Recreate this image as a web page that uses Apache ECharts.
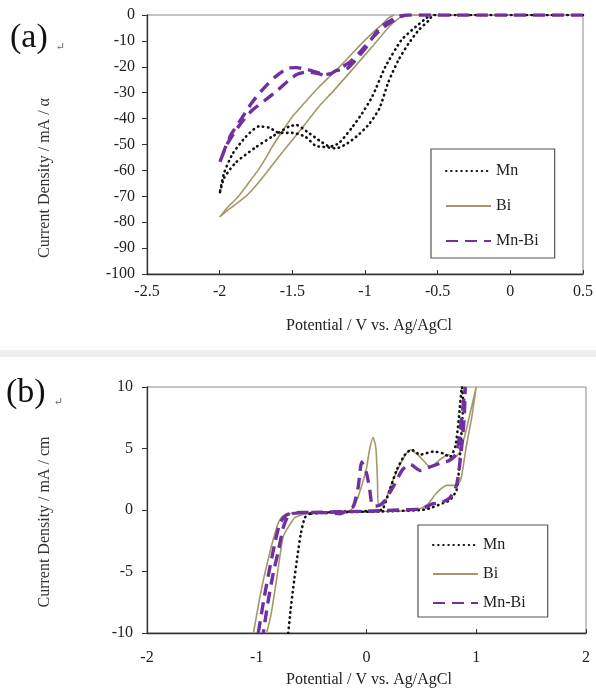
<!DOCTYPE html>
<html><head><meta charset="utf-8">
<script src="https://cdn.jsdelivr.net/npm/echarts@6/dist/echarts.min.js"></script>
<style>html,body{margin:0;padding:0;background:#fff}#c{width:596px;height:691px}</style>
</head><body><div id="c"></div>
<script>
// ---- data ----
const seriesNames = ['Mn', 'Bi', 'Mn-Bi'];
// panel (a): [potential V, current density]
const mnA = [[0.5,0],[-0.2,0],[-0.53,0],[-0.56,-2],[-0.63,-5.8],[-0.7,-11],[-0.77,-17.4],[-0.84,-26],[-0.9,-36],[-0.97,-42],[-1.04,-46],[-1.12,-49.5],[-1.2,-51.5],[-1.27,-51],[-1.34,-50.5],[-1.41,-47],[-1.5,-45.5],[-1.59,-45.5],[-1.66,-43.5],[-1.73,-43],[-1.82,-47],[-1.91,-53.5],[-1.97,-61],[-2,-69],[-1.97,-63],[-1.89,-57],[-1.75,-51],[-1.64,-47],[-1.52,-43],[-1.47,-42.5],[-1.4,-45],[-1.3,-49],[-1.24,-50.8],[-1.18,-49.5],[-1.09,-43.5],[-1.02,-38],[-0.95,-31.5],[-0.86,-20],[-0.75,-9.7],[-0.65,-4.5],[-0.585,-1.5],[-0.55,0]];
const biA = [[0.5,0],[-0.72,0],[-0.76,-1],[-0.81,-3.2],[-0.88,-7.5],[-0.95,-12.2],[-1.04,-18],[-1.13,-23.8],[-1.22,-29.5],[-1.32,-35.5],[-1.41,-42],[-1.5,-48.3],[-1.59,-54.5],[-1.68,-61],[-1.76,-66.5],[-1.82,-70],[-1.9,-73.5],[-1.96,-76],[-2,-78],[-1.95,-74.5],[-1.87,-70],[-1.82,-66.3],[-1.77,-62.5],[-1.73,-59.5],[-1.68,-55],[-1.64,-51],[-1.57,-45],[-1.5,-39.3],[-1.41,-33.5],[-1.32,-28],[-1.22,-22.5],[-1.13,-17.4],[-1.04,-12],[-0.95,-7],[-0.88,-3.5],[-0.84,-1.2],[-0.8,0]];
const mnBiA = [[0.5,0],[-0.2,0],[-0.7,0],[-0.75,-0.5],[-0.8,-2],[-0.88,-5],[-0.96,-9.5],[-1.04,-14.7],[-1.1,-18],[-1.17,-20.5],[-1.23,-22.5],[-1.28,-23],[-1.34,-22],[-1.4,-21],[-1.47,-20.3],[-1.53,-20.5],[-1.62,-24],[-1.7,-28.5],[-1.78,-34],[-1.85,-40],[-1.92,-46],[-1.96,-51],[-2,-57],[-1.95,-50],[-1.87,-43],[-1.78,-37],[-1.69,-33],[-1.6,-29],[-1.53,-25.5],[-1.47,-23],[-1.4,-22],[-1.33,-22.5],[-1.26,-23.5],[-1.2,-21.5],[-1.13,-21],[-1.09,-19],[-1.0,-13],[-0.9,-5],[-0.82,-2],[-0.77,-0.6],[-0.72,0]];
// panel (b)
const mnB = [[-0.713,-10],[-0.69,-8],[-0.667,-6.3],[-0.63,-3.8],[-0.6,-2],[-0.56,-0.6],[-0.5,-0.25],[-0.2,-0.15],[0.1,-0.05],[0.15,0.1],[0.21,1.6],[0.275,3.25],[0.35,4.5],[0.41,4.9],[0.49,4.5],[0.61,4.75],[0.7,4.6],[0.76,4.3],[0.81,5.2],[0.84,7.3],[0.87,10],[0.88,8.8],[0.86,5.5],[0.84,3],[0.82,1.6],[0.76,0.8],[0.7,0.57],[0.58,0.15],[0.5,0],[0.2,-0.1],[-0.3,-0.2],[-0.52,-0.3]];
const biB = [[-1.03,-10],[-0.98,-7.5],[-0.94,-5.7],[-0.89,-3.8],[-0.85,-2.4],[-0.81,-1.2],[-0.77,-0.55],[-0.7,-0.3],[-0.5,-0.2],[-0.3,-0.15],[-0.15,-0.05],[-0.1,0.5],[-0.05,1.8],[0,3.4],[0.03,5.0],[0.06,5.9],[0.085,5.1],[0.1,2.4],[0.11,0.3],[0.16,0.5],[0.24,2.4],[0.33,4.1],[0.4,4.9],[0.49,4.3],[0.58,3.5],[0.67,4.1],[0.745,4.5],[0.79,4.2],[0.85,4.7],[0.9,6.2],[0.95,8.1],[1.0,10],[0.96,7.6],[0.91,5.2],[0.86,2.5],[0.82,2.0],[0.73,2.0],[0.64,1.4],[0.55,0.4],[0.45,0],[0.2,-0.1],[-0.3,-0.2],[-0.55,-0.3],[-0.65,-0.6],[-0.7,-1.2],[-0.76,-2.2],[-0.82,-5.7],[-0.87,-8.5],[-0.91,-10]];
const mnBiB = [[-0.986,-10],[-0.93,-7],[-0.879,-4.6],[-0.83,-2.5],[-0.788,-1.06],[-0.73,-0.4],[-0.6,-0.2],[-0.4,-0.2],[-0.24,-0.3],[-0.18,-0.05],[-0.12,0.3],[-0.075,1.9],[-0.044,3.9],[0,3.0],[0.03,1.6],[0.047,0.57],[0.08,0.3],[0.12,0.4],[0.17,0.8],[0.25,2.0],[0.33,3.3],[0.4,3.7],[0.49,3.2],[0.58,3.5],[0.67,3.8],[0.75,4.0],[0.82,4.6],[0.86,7],[0.9,10],[0.89,7.5],[0.86,4.5],[0.82,2.0],[0.76,1.0],[0.68,0.6],[0.6,0.5],[0.5,0.1],[0.3,0],[0,-0.1],[-0.5,-0.2],[-0.7,-0.35],[-0.758,-1.4],[-0.8,-3.2],[-0.849,-5.1],[-0.9,-7.6],[-0.94,-10]];

// ---- styles ----
const FONT = '"Liberation Serif", "DejaVu Serif", serif';
const styles = {
  'Mn':    {color:'#111', width:2.6, type:[0.5,4.6], cap:'round'},
  'Bi':    {color:'#a39868', width:1.6, type:'solid', cap:'butt'},
  'Mn-Bi': {color:'#7030a0', width:3.4, type:[12,7], cap:'butt'}
};
function mk(name, data, idx, z){
  const s = styles[name];
  return {name, type:'line', data, xAxisIndex:idx, yAxisIndex:idx, symbol:'none', showSymbol:false,
    smooth:0.2, z, animation:false,
    lineStyle:{color:s.color, width:s.width, type:s.type, cap:s.cap},
    itemStyle:{color:s.color}};
}
function xAx(idx,min,max,interval,margin){
  return {type:'value', gridIndex:idx, min, max, interval,
    axisLine:{show:true, onZero:false, lineStyle:{color:'#333', width:1.3}},
    axisTick:{show:true, inside:true, length:4, lineStyle:{color:'#333'}},
    axisLabel:{fontFamily:FONT, fontSize:16, color:'#222', margin},
    splitLine:{show:false}};
}
function yAx(idx,min,max,interval,margin){
  return {type:'value', gridIndex:idx, min, max, interval,
    axisLine:{show:true, onZero:false, lineStyle:{color:'#333', width:1.3}},
    axisTick:{show:true, inside:false, length:5, lineStyle:{color:'#333'}},
    axisLabel:{fontFamily:FONT, fontSize:16, color:'#222', margin},
    splitLine:{show:false}};
}
function legend(left, top, gap, pad){
  return {data:seriesNames, orient:'vertical', left, top, itemWidth:45, itemHeight:14, itemGap:gap,
    padding:pad, borderColor:'#555', borderWidth:1.2, borderRadius:0, selectedMode:false,
    itemStyle:{opacity:0, borderWidth:0},
    textStyle:{fontFamily:FONT, fontSize:16, color:'#222'}};
}
const chart = echarts.init(document.getElementById('c'), null, {renderer:'canvas'});
chart.setOption({
  backgroundColor:'#fff',
  animation:false,
  grid:[
    {left:147, top:15, width:438, height:259, show:true, borderColor:'#888', borderWidth:1},
    {left:147, top:387, width:439, height:246, show:true, borderColor:'#888', borderWidth:1}
  ],
  xAxis:[xAx(0,-2.5,0.5,0.5,10), xAx(1,-2,2,1,17)],
  yAxis:[yAx(0,-100,0,10,12), yAx(1,-10,10,5,14)],
  legend:[legend(431,149,19,[14,16,9,14]), legend(418,525,13,[12,22,6,14])],
  series:[
    mk('Bi', biA, 0, 2), mk('Mn', mnA, 0, 3), mk('Mn-Bi', mnBiA, 0, 4),
    mk('Bi', biB, 1, 2), mk('Mn', mnB, 1, 3), mk('Mn-Bi', mnBiB, 1, 4)
  ],
  graphic:[
    {type:'rect', shape:{x:0, y:350, width:596, height:7}, style:{fill:'#eeeeee'}, silent:true},
    {type:'text', left:10, top:21, style:{text:'(a)', font:'34px '+FONT, fill:'#111'}},
    {type:'text', left:56, top:42, style:{text:'↵', font:'11px '+FONT, fill:'#666'}},
    {type:'text', left:6, top:376, style:{text:'(b)', font:'34px '+FONT, fill:'#111'}},
    {type:'text', left:54, top:397, style:{text:'↵', font:'11px '+FONT, fill:'#666'}},
    {type:'text', x:45, y:178, rotation:Math.PI/2, style:{text:'Current Density / mA / α', font:'16px '+FONT, fill:'#333', align:'center', verticalAlign:'middle'}},
    {type:'text', x:45, y:522, rotation:Math.PI/2, style:{text:'Current Density / mA / cm', font:'16px '+FONT, fill:'#333', align:'center', verticalAlign:'middle'}},
    {type:'text', x:369, y:326, style:{text:'Potential / V vs. Ag/AgCl', font:'16px '+FONT, fill:'#222', align:'center', verticalAlign:'middle'}},
    {type:'text', x:369, y:680, style:{text:'Potential / V vs. Ag/AgCl', font:'16px '+FONT, fill:'#222', align:'center', verticalAlign:'middle'}}
  ]
});
</script></body></html>
